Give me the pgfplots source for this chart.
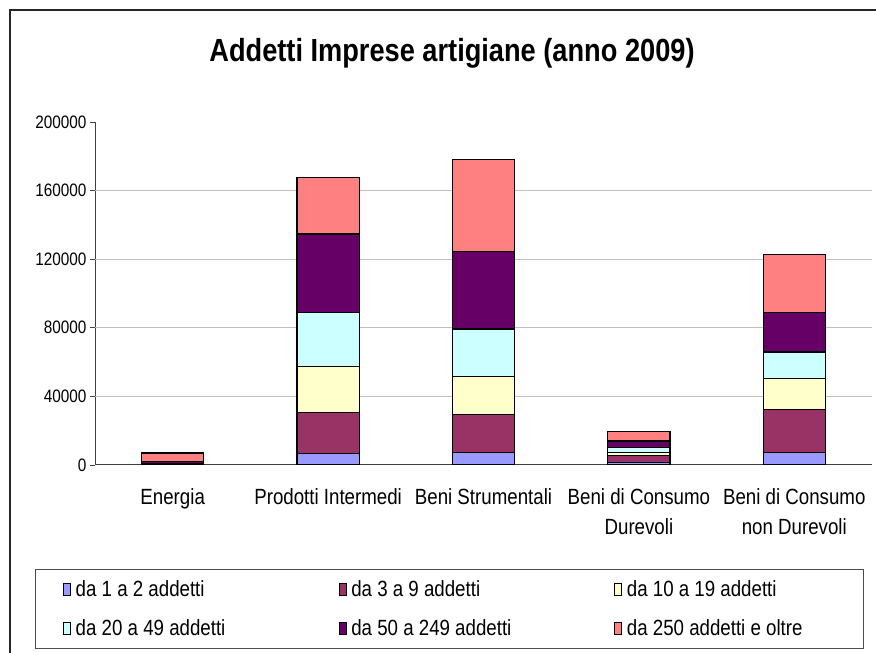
\documentclass[border=0pt]{standalone}
\usepackage{pgfplots}
\pgfplotsset{compat=1.18}
\usepackage{fontspec}
\setmainfont{Liberation Sans}[FakeStretch=0.85]
\definecolor{c1}{HTML}{9999FF}
\definecolor{c2}{HTML}{993366}
\definecolor{c3}{HTML}{FFFFCC}
\definecolor{c4}{HTML}{CCFFFF}
\definecolor{c5}{HTML}{660066}
\definecolor{c6}{HTML}{FF8080}
\pgfplotsset{mylegend/.style={legend image code/.code={\draw[##1,draw=black,line width=0.6pt] (0pt,-6pt) rectangle (7pt,6pt);}}}
\begin{document}
\begin{tikzpicture}[x=1pt,y=1pt]
\path[use as bounding box] (0,0) rectangle (876,653);
\draw[line width=1.5pt, black!85] (10,-10) -- (10,643) -- (890,643);
\node[font=\fontsize{32}{36}\selectfont\bfseries] at (452,600) {Addetti Imprese artigiane (anno 2009)};
\begin{axis}[
  at={(95pt,188pt)}, anchor=south west,
  scale only axis, width=777pt, height=343pt,
  ybar stacked, bar width=0.4,
  xmin=-0.5, xmax=4.5, ymin=0, ymax=200000,
  axis x line*=bottom, axis y line*=left,
  axis line style={black!75, line width=1pt},
  ytick={0,40000,80000,120000,160000,200000},
  yticklabel style={font=\fontsize{18}{20}\selectfont},
  /pgf/number format/assume math mode=true,
  /pgf/number format/fixed,
  /pgf/number format/precision=0,
  /pgf/number format/1000 sep={},
  scaled y ticks=false,
  tick align=outside,
  major tick length=5pt,
  tick style={black!75, line width=0.8pt},
  xtick={0,1,2,3,4},
  xticklabels={Energia, Prodotti Intermedi, Beni Strumentali, {Beni di Consumo\\Durevoli}, {Beni di Consumo\\non Durevoli}},
  xticklabel style={font=\fontsize{22}{30}\selectfont, align=center, yshift=-15pt},
  x tick style={draw=none},
  extra x ticks={-0.5,0.5,1.5,2.5,3.5,4.5},
  extra x tick labels={},
  extra x tick style={major tick length=6pt, tick style={draw=black!75, line width=0.8pt}},
  extra y ticks={40000,80000,120000,160000},
  extra y tick labels={},
  extra y tick style={ymajorgrids=true, major tick length=0pt, major grid style={black!25, line width=1pt}},
  legend columns=3,
  legend style={at={(0.4556,-0.4198)}, anchor=center, draw=black!70, line width=0.8pt,
    font=\fontsize{22}{24}\selectfont, nodes={inner sep=2pt},
    /tikz/every odd column/.append style={column sep=3pt},
    /tikz/every even column/.append style={column sep=55pt},
    row sep=17pt, inner xsep=28pt, inner ysep=9.5pt},
]
\addplot[fill=c1, draw=black, line width=1.1pt, mylegend] coordinates {(0,100) (1,6500) (2,7400) (3,1600) (4,7400)};
\addplot[fill=c2, draw=black, line width=1.1pt, mylegend] coordinates {(0,300) (1,24000) (2,22100) (3,4200) (4,25200)};
\addplot[fill=c3, draw=black, line width=1.1pt, mylegend] coordinates {(0,200) (1,27000) (2,22000) (3,1600) (4,17700)};
\addplot[fill=c4, draw=black, line width=1.1pt, mylegend] coordinates {(0,300) (1,31300) (2,27800) (3,2700) (4,15600)};
\addplot[fill=c5, draw=black, line width=1.1pt, mylegend] coordinates {(0,900) (1,45900) (2,45100) (3,3900) (4,22900)};
\addplot[fill=c6, draw=black, line width=1.1pt, mylegend] coordinates {(0,5200) (1,33000) (2,53600) (3,5400) (4,34200)};
\addlegendentry{\makebox[206pt][l]{da 1 a 2 addetti}}
\addlegendentry{\makebox[206pt][l]{da 3 a 9 addetti}}
\addlegendentry{\makebox[206pt][l]{da 10 a 19 addetti}}
\addlegendentry{\makebox[206pt][l]{da 20 a 49 addetti}}
\addlegendentry{\makebox[206pt][l]{da 50 a 249 addetti}}
\addlegendentry{\makebox[206pt][l]{da 250 addetti e oltre}}
\end{axis}
\end{tikzpicture}
\end{document}
